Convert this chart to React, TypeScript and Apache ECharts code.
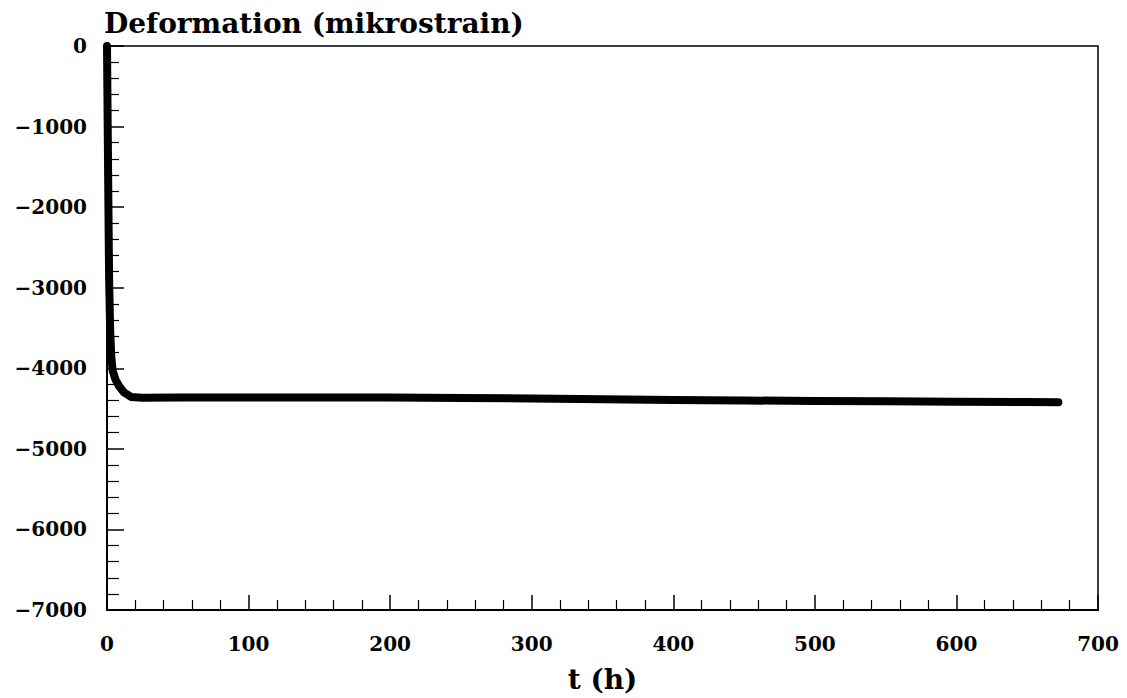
import React, { useEffect, useRef } from "react";
import * as echarts from "echarts";

const timeHours = [0, 0.5, 1, 1.5, 2.2, 3, 4, 6, 8.5, 12, 17, 25, 50, 100, 150, 200, 250, 300, 350, 400, 450, 500, 550, 600, 650, 672];
const deformation = [0, -1000, -2000, -2900, -3500, -3850, -4030, -4140, -4220, -4300, -4355, -4365, -4363, -4362, -4362, -4364, -4368, -4375, -4385, -4395, -4400, -4405, -4410, -4414, -4418, -4420];

const xTitle = "t (h)";
const yTitle = "Deformation (mikrostrain)";

const FONT = "DejaVu Serif";

export default function App() {
  const ref = useRef<HTMLDivElement>(null);
  useEffect(() => {
    if (!ref.current) return;
    const chart = echarts.init(ref.current, undefined, { renderer: "svg" });
    const data = timeHours.map((t, i) => [t, deformation[i]]);
    chart.setOption({
      animation: false,
      backgroundColor: "#fff",
      grid: {
        left: 107,
        right: 29,
        top: 46,
        bottom: 86,
        show: true,
        borderColor: "#000",
        borderWidth: 1.5,
        backgroundColor: "transparent",
      },
      xAxis: {
        type: "value",
        min: 0,
        max: 700,
        interval: 100,
        name: xTitle,
        nameLocation: "middle",
        nameGap: 55,
        nameTextStyle: { fontFamily: FONT, fontWeight: "bold", fontSize: 28, color: "#000" },
        axisLine: { show: true, onZero: false, lineStyle: { color: "#000", width: 2 } },
        axisTick: { show: true, inside: true, length: 15, lineStyle: { color: "#000", width: 1.5 } },
        minorTick: { show: true, splitNumber: 5, length: 10, lineStyle: { color: "#000", width: 1.2 } },
        splitLine: { show: false },
        axisLabel: { fontFamily: FONT, fontWeight: "bold", fontSize: 20, color: "#000", margin: 24 },
      },
      yAxis: {
        type: "value",
        min: -7000,
        max: 0,
        interval: 1000,
        name: yTitle,
        nameLocation: "end",
        nameGap: 9,
        nameTextStyle: { fontFamily: FONT, fontWeight: "bold", fontSize: 28, color: "#000", align: "left", padding: [0, 0, 0, -3] },
        axisLine: { show: true, onZero: false, lineStyle: { color: "#000", width: 2 } },
        axisTick: { show: true, inside: true, length: 17, lineStyle: { color: "#000", width: 1.5 } },
        minorTick: { show: true, splitNumber: 5, length: 12, lineStyle: { color: "#000", width: 1.2 } },
        splitLine: { show: false },
        axisLabel: {
          fontFamily: FONT,
          fontWeight: "bold",
          fontSize: 20,
          color: "#000",
          margin: 20,
          formatter: (v: number) => String(v).replace("-", "\u2212"),
        },
      },
      series: [
        {
          type: "line",
          data,
          showSymbol: false,
          smooth: false,
          lineStyle: { color: "#000", width: 8, cap: "round", join: "round" },
        },
      ],
    });
    return () => chart.dispose();
  }, []);
  return <div ref={ref} style={{ position: "fixed", left: 0, top: 0, width: 1127, height: 698 }} />;
}
